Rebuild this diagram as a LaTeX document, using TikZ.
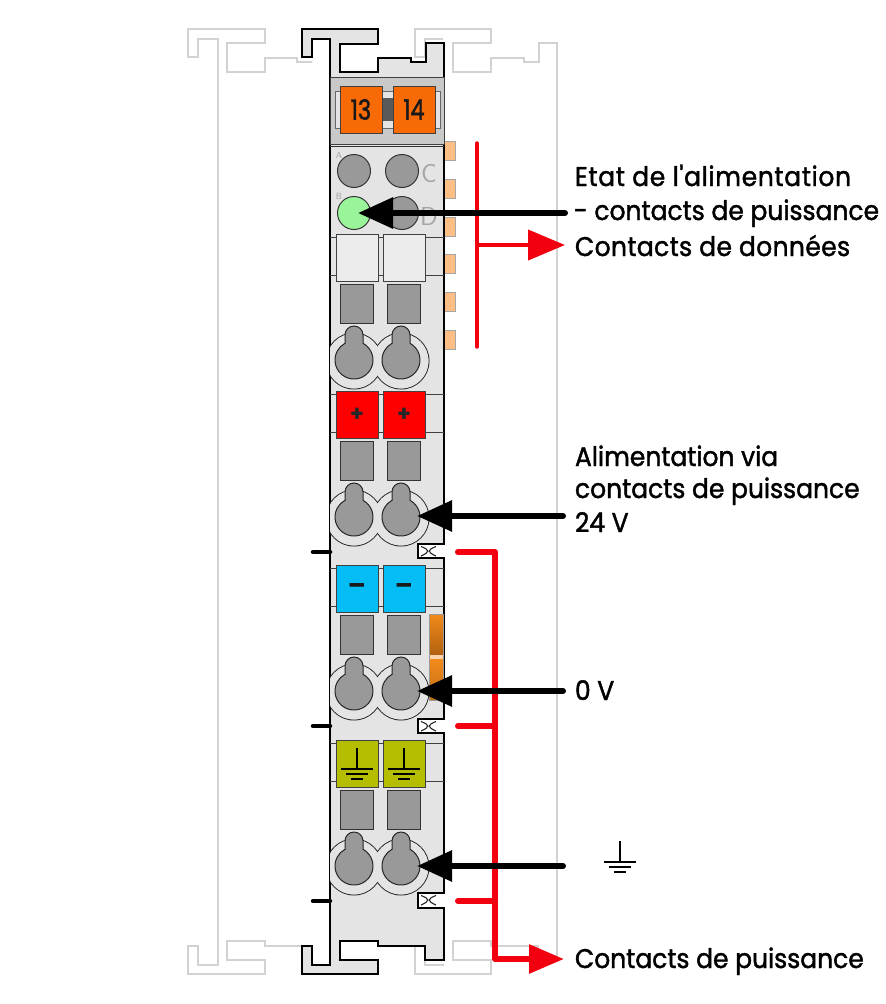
\documentclass[tikz,border=0pt]{standalone}
\usepackage{fontspec}
\usepackage{xcolor}
\usetikzlibrary{arrows.meta}
\setmainfont[FakeStretch=0.925,FakeBold=1.5,Ligatures=TeXOff]{Poppins}
\newfontfamily\numfont[FakeStretch=0.8,FakeBold=1.5]{Poppins}
\newfontfamily\signfont{Poppins}
\definecolor{bodygray}{HTML}{E4E4E4}
\definecolor{headgray}{HTML}{C9C9C9}
\definecolor{metal}{HTML}{999999}
\definecolor{ghost}{HTML}{D2D2D2}
\definecolor{orangeB}{HTML}{F76A05}
\definecolor{peach}{HTML}{FDBE85}
\definecolor{ledgray}{HTML}{999999}
\definecolor{ledgreen}{HTML}{9AF59A}
\definecolor{blueM}{HTML}{05BDF5}
\definecolor{oliveM}{HTML}{B5BD00}
\definecolor{stripO}{HTML}{F28A1A}
\definecolor{stripB}{HTML}{B0610F}
\definecolor{redW}{HTML}{F2000F}
\tikzset{
  ghostline/.style={draw=ghost,line width=1.8pt,line join=miter},
  marker/.style={draw=black!75,line width=1pt,minimum width=42pt,minimum height=47.5pt,inner sep=0pt,outer sep=0pt},
  socket/.style={draw=black!80,fill=metal,line width=1pt,minimum width=33pt,minimum height=39pt,inner sep=0pt,outer sep=0pt},
  led/.style={circle,draw=black!80,line width=1pt,minimum size=33pt,inner sep=0pt,outer sep=0pt},
  contact/.style={draw=black!35,fill=peach,line width=.6pt,minimum width=11pt,minimum height=19pt,inner sep=0pt,outer sep=0pt},
  rowline/.style={draw=black!75,line width=1pt},
  label/.style={anchor=base west,inner sep=0pt,outer sep=0pt,align=left,font=\fontsize{27}{34}\selectfont},
  blackarrow/.style={line width=6pt,line cap=round,-{Triangle[length=35pt,width=30pt]}},
  redarrow/.style={draw=redW,line width=6pt,line cap=round,line join=round},
  tick/.style={line width=4.5pt,line cap=round},
  keyhole/.pic={
    \path[draw=black!85,fill=metal,line width=1pt,x=1pt,y=1pt]
      (-9,16.7) -- (-9,25) arc (180:0:9) -- (9,16.7) arc (61.7:-241.7:19) -- cycle;
  },
  groundsym/.pic={
    \draw[line width=1.9pt,black,y=-1pt,x=1pt]
      (0,-21) -- (0,0) (-16,0) -- (16,0) (-11,5) -- (11,5) (-6,10) -- (6,10);
  },
}
% a terminal row: marker pair, socket pair, wire entries
\newcommand{\terminalrow}[3]{%
  \draw[rowline] (330,#1+3) -- (444,#1+3) (330,#1+41) -- (444,#1+41);
  \node[marker,fill=#2] (#3ma) at (357,#1+24) {};
  \node[marker,fill=#2] (#3mb) at (404,#1+24) {};
  \node[socket] (#3sa) at (356.5,#1+69.5) {};
  \node[socket] (#3sb) at (403.5,#1+69.5) {};
  \begin{scope}
    \clip (330,#1+80) rectangle (444,#1+160);
    \draw[black!85,line width=1pt] (354,#1+127) circle [radius=28pt] (401,#1+127) circle [radius=28pt];
    \fill[bodygray] (354,#1+127) circle [radius=27.5pt] (401,#1+127) circle [radius=27.5pt];
  \end{scope}
  \pic at (354,#1+126) {keyhole};
  \pic at (401,#1+126) {keyhole};
}
\newcommand{\latchmark}[1]{%
  \draw[black!85,line width=1.1pt] (421,#1+2.5) .. controls (430,#1+6) and (430,#1+8) .. (421,#1+12)
    (436,#1+2.5) .. controls (427,#1+6) and (427,#1+8) .. (436,#1+12);
}
\begin{document}
\begin{tikzpicture}[x=1pt,y=-1pt]
\useasboundingbox (0,0) rectangle (886,1004);
\fill[white] (0,0) rectangle (886,1004);

% neighbouring modules, in outline
\draw[ghostline] (312,62) -- (297,62) -- (297,58) -- (265,58) -- (265,72) -- (227,72) -- (227,43) -- (265,43) -- (265,29)
  -- (188,29) -- (188,57) -- (198,57) -- (198,39) -- (218,39) -- (218,965) -- (198,965) -- (198,946) -- (188,946)
  -- (188,974) -- (265,974) -- (265,960) -- (227,960) -- (227,941) -- (265,941) -- (265,946) -- (312,946);
\draw[ghostline] (443,39) -- (425,39) -- (425,57) -- (415,57) -- (415,29) -- (491,29) -- (491,43) -- (453,43) -- (453,72)
  -- (491,72) -- (491,58) -- (524,58) -- (524,62) -- (539,62) -- (539,43) -- (557,43) -- (557,960) -- (538,960)
  -- (538,946) -- (491,946) -- (491,941) -- (453,941) -- (453,960) -- (491,960) -- (491,974) -- (415,974) -- (415,946)
  -- (425,946) -- (425,965) -- (444,965);

% data contacts on the right flank
\foreach \cy [count=\i] in {150.5,188.5,226.5,263.5,301.5,339.5}
  \node[contact] (dc\i) at (449.5,\cy) {};

% module housing with its rail clips and latch notches
\draw[fill=bodygray,line width=2pt,line join=miter]
  (302,29) -- (378,29) -- (378,44) -- (340,44) -- (340,72) -- (378,72) -- (378,58) -- (411,58) -- (411,62) -- (426,62)
  -- (426,43) -- (444,43) -- (444,544) -- (418,544) -- (418,558) -- (444,558) -- (444,719) -- (418,719) -- (418,733)
  -- (444,733) -- (444,893) -- (418,893) -- (418,908) -- (444,908) -- (444,960) -- (425,960) -- (425,946) -- (378,946)
  -- (378,941) -- (340,941) -- (340,960) -- (378,960) -- (378,974) -- (302,974) -- (302,946) -- (312,946) -- (312,965)
  -- (330,965) -- (330,39) -- (312,39) -- (312,57) -- (302,57) -- cycle;
\latchmark{544}
\latchmark{719}
\latchmark{893}

% head with the two numbered markers
\draw[fill=headgray,draw=black!75,line width=1pt] (330,77) rectangle (444,144);
\draw[black!80,line width=1pt] (330,146) -- (444,146);
\draw[fill=bodygray,draw=black!60,line width=1pt] (335,91) rectangle (440,128);
\fill[black!65] (382,98) rectangle (393,121);
\node[marker,fill=orangeB,minimum height=47pt,font=\numfont\fontsize{28}{28}\selectfont,text=black!90] (m13) at (361,109.5) {13};
\node[marker,fill=orangeB,minimum height=47pt,font=\numfont\fontsize{28}{28}\selectfont,text=black!90] (m14) at (414,109.5) {14};

% status indicators and their letters
\node[led,fill=ledgray] (ledA) at (354,171) {};
\node[led,fill=ledgray] (ledC) at (402,171) {};
\node[led,fill=ledgreen] (ledB) at (354,213) {};
\node[led,fill=ledgray] (ledD) at (402,213) {};
\node[text=black!35,font=\sffamily\fontsize{9}{9}\selectfont,inner sep=0pt] (ta) at (339,155) {A};
\node[text=black!35,font=\sffamily\fontsize{9}{9}\selectfont,inner sep=0pt] (tb) at (339,196) {B};
\node[text=black!35,font=\sffamily\fontsize{26}{26}\selectfont,inner sep=0pt] (tc) at (429,174) {C};
\node[text=black!35,font=\sffamily\fontsize{26}{26}\selectfont,inner sep=0pt] (td) at (429,216) {D};

% bridge strip beside the third row
\shade[top color=stripO,bottom color=stripB] (429,614) rectangle (443,655);
\fill[peach!70!white] (429,655) rectangle (443,659);
\shade[top color=stripO,bottom color=stripO!80!black] (429,659) rectangle (443,700);
\draw[black!40,line width=.6pt] (429,614) rectangle (443,700);

% terminal rows
\terminalrow{234}{bodygray!70!white}{w}
\terminalrow{391}{red}{p}
\terminalrow{565}{blueM}{n}
\terminalrow{740}{oliveM}{g}

\node[font=\signfont\bfseries\fontsize{22}{22}\selectfont,text=black!85,inner sep=0pt] (plusa) at (pma) {+};
\node[font=\signfont\bfseries\fontsize{22}{22}\selectfont,text=black!85,inner sep=0pt] (plusb) at (pmb) {+};
\node[font=\signfont\bfseries\fontsize{26}{26}\selectfont,text=black!90,inner sep=0pt] (minusa) at (nma) {–};
\node[font=\signfont\bfseries\fontsize{26}{26}\selectfont,text=black!90,inner sep=0pt] (minusb) at (nmb) {–};
\pic at (357,769) {groundsym};
\pic at (404,769) {groundsym};

% small ticks on the left edge
\coordinate (tk1) at (330,552); \coordinate (tk1e) at (313,552);
\coordinate (tk2) at (330,726); \coordinate (tk2e) at (313,726);
\coordinate (tk3) at (330,901); \coordinate (tk3e) at (313,901);
\draw[tick] (tk1e) -- (tk1);
\draw[tick] (tk2e) -- (tk2);
\draw[tick] (tk3e) -- (tk3);

% data contact bracket
\coordinate (dtop) at (477,143);
\coordinate (dbot) at (477,347);
\coordinate (dmid) at (477,245);
\coordinate (dtip) at (565,245);
\draw[redW,line width=3.5pt,line cap=round] (dtop) -- (dbot);
\draw[redW,line width=4pt,-{Triangle[length=37pt,width=30pt]}] (dmid) -- (dtip);

% power contact bracket
\coordinate (s1) at (458,552);
\coordinate (s2) at (458,726);
\coordinate (s3) at (458,901);
\coordinate (pb1) at (495,552);
\coordinate (pb2) at (495,726);
\coordinate (pb3) at (495,901);
\coordinate (pb4) at (495,959);
\coordinate (ptip) at (564,959);
\draw[redarrow] (s2) -- (pb2);
\draw[redarrow] (s3) -- (pb3);
\draw[redarrow,-{Triangle[length=35pt,width=28pt]}] (s1) -- (pb1) -- (pb4) -- (ptip);

% signal arrows
\coordinate (a1s) at (565,213); \coordinate (a1t) at (358,213);
\coordinate (a2s) at (563,516); \coordinate (a2t) at (417,516);
\coordinate (a3s) at (563,691); \coordinate (a3t) at (417,691);
\coordinate (a4s) at (563,866); \coordinate (a4t) at (417,866);
\draw[blackarrow] (a1s) -- (a1t);
\draw[blackarrow] (a2s) -- (a2t);
\draw[blackarrow] (a3s) -- (a3t);
\draw[blackarrow] (a4s) -- (a4t);

% labels
\node[label] (etat) at (575,186) {\addfontfeature{LetterSpace=2.5}Etat de l'alimentation};
\node[label] (etat2) at (574,220) {- contacts de puissance};
\node[label] (donnees) at (575,256) {\addfontfeature{LetterSpace=1.4}Contacts de données};
\node[label] (alim) at (575,466) {Alimentation via};
\node[label] (alim2) at (575,498) {contacts de puissance};
\node[label] (alim3) at (575,532) {24 V};
\node[label] (zero) at (575,700) {0 V};
\node[label] (puiss) at (575,968) {Contacts de puissance};
\pic at (620,862) {groundsym};
\end{tikzpicture}
\end{document}
